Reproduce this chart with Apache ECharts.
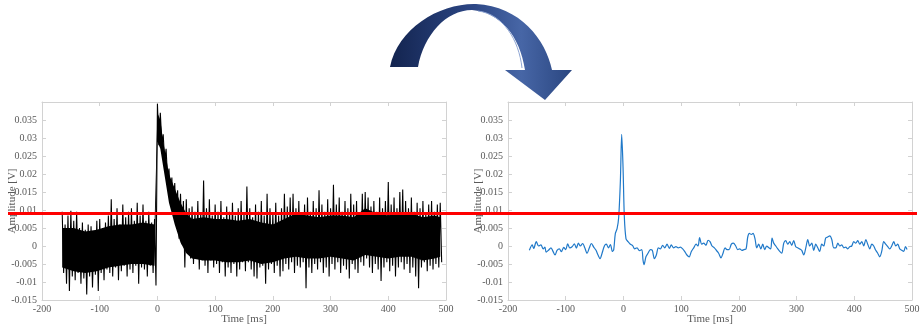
<!DOCTYPE html>
<html>
<head>
<meta charset="utf-8">
<script src="https://cdn.jsdelivr.net/npm/echarts@6/dist/echarts.min.js"></script>
<style>
  html, body { margin: 0; padding: 0; background: #fff; }
  #chart { width: 920px; height: 325px; }
</style>
</head>
<body>
<div id="chart"></div>
<script>
// raw recording (left): upper / lower swing of the noisy trace, one pair every 5 ms from -165 ms
const rawStart = -165
const rawStep = 5
const rawHigh = [
  0.0095, 0.006, 0.0085, 0.0098, 0.007, 0.0095, 0.005, 0.0065, 0.0045, 0.006, 0.0055,
  0.004, 0.007, 0.0075, 0.005, 0.0065, 0.0085, 0.013, 0.0075, 0.0105, 0.006, 0.0115,
  0.008, 0.0095, 0.0105, 0.007, 0.012, 0.0085, 0.0115, 0.007, 0.0095, 0.0065, 0.0075,
  0.0395, 0.037, 0.031, 0.027, 0.0215, 0.019, 0.0175, 0.0155, 0.0145, 0.0125, 0.013,
  0.0105, 0.011, 0.0095, 0.0125, 0.009, 0.0182, 0.0105, 0.013, 0.0085, 0.0115, 0.0095,
  0.0125, 0.008, 0.011, 0.0095, 0.012, 0.0085, 0.0105, 0.0125, 0.009, 0.0165, 0.0105,
  0.008, 0.0115, 0.0095, 0.0125, 0.0085, 0.0145, 0.0105, 0.009, 0.012, 0.0085, 0.0105,
  0.0145, 0.011, 0.0135, 0.0145, 0.0105, 0.0125, 0.009, 0.0115, 0.0135, 0.0095, 0.0125,
  0.0105, 0.0155, 0.0115, 0.0095, 0.013, 0.0105, 0.017, 0.0115, 0.0135, 0.0095, 0.0125,
  0.0105, 0.0145, 0.0115, 0.0125, 0.009, 0.0145, 0.015, 0.0135, 0.011, 0.0125, 0.0095,
  0.0135, 0.0105, 0.0125, 0.0178, 0.0115, 0.0135, 0.0105, 0.015, 0.0157, 0.0125, 0.0105,
  0.0135, 0.0095, 0.012, 0.0105, 0.0125, 0.009, 0.0115, 0.0125, 0.0095, 0.0115, 0.012
]
const rawLow = [
  -0.0075, -0.0105, -0.0125, -0.0085, -0.0095, -0.0075, -0.0105, -0.009, -0.0135, -0.0085, -0.0115,
  -0.008, -0.0125, -0.0075, -0.0095, -0.0065, -0.0075, -0.0085, -0.006, -0.0095, -0.007, -0.0055,
  -0.0085, -0.0065, -0.0075, -0.0055, -0.0105, -0.006, -0.0065, -0.0085, -0.0055, -0.0075, -0.011,
  0.028, 0.029, 0.0235, 0.019, 0.0135, 0.009, 0.006, 0.002, 0.0005, -0.006, -0.002,
  -0.0035, -0.005, -0.003, -0.0065, -0.004, -0.0055, -0.0075, -0.004, -0.006, -0.005, -0.0075,
  -0.0045, -0.0085, -0.006, -0.0075, -0.005, -0.0085, -0.0065, -0.0045, -0.007, -0.0045, -0.0065,
  -0.0085, -0.009, -0.006, -0.0055, -0.0105, -0.0065, -0.005, -0.0075, -0.0055, -0.0085, -0.007,
  -0.005, -0.0065, -0.0045, -0.0075, -0.0055, -0.006, -0.0045, -0.0117, -0.006, -0.0075, -0.005,
  -0.0065, -0.0045, -0.0075, -0.006, -0.0085, -0.005, -0.0065, -0.0045, -0.0075, -0.0055, -0.0065,
  -0.009, -0.005, -0.0065, -0.0075, -0.0045, -0.0055, -0.0035, -0.006, -0.0075, -0.005, -0.0065,
  -0.0097, -0.006, -0.0045, -0.007, -0.0055, -0.0085, -0.006, -0.0045, -0.0065, -0.005, -0.0075,
  -0.006, -0.0085, -0.0117, -0.006, -0.0045, -0.007, -0.0055, -0.0065, -0.005, -0.006, -0.0045
]

// dense (solid black) core of the raw trace
const coreTime = [
  -165, -145, -125, -105, -85, -65, -45, -25, -5,
  0, 5, 10, 20, 30, 40, 50,
  60, 80, 100, 120, 140, 160, 180, 200, 220, 240, 260, 280, 300, 320, 340,
  360, 380, 400, 420, 440, 460, 480, 490
]
const coreTop = [
  0.005, 0.005, 0.004, 0.0045, 0.0055, 0.006, 0.006, 0.0065, 0.006,
  0.037, 0.035, 0.029, 0.02, 0.016, 0.012, 0.009,
  0.0075, 0.008, 0.0075, 0.0075, 0.007, 0.0075, 0.0065, 0.006, 0.0075, 0.009, 0.0085, 0.008, 0.0085, 0.0085, 0.008,
  0.0105, 0.009, 0.0085, 0.0095, 0.009, 0.008, 0.0085, 0.008
]
const coreBottom = [
  -0.006, -0.007, -0.0075, -0.007, -0.006, -0.0055, -0.005, -0.005, -0.0055,
  0.029, 0.027, 0.022, 0.012, 0.006, 0.001, -0.002,
  -0.0035, -0.004, -0.004, -0.0045, -0.0045, -0.004, -0.005, -0.0045, -0.0035, -0.003, -0.0035, -0.0035, -0.003, -0.0035, -0.004,
  -0.0025, -0.003, -0.0035, -0.003, -0.003, -0.004, -0.0035, -0.003
]

// filtered trace (right)
const filtTime = [
  -163, -158, -155.5, -151, -147, -143, -139, -136, -134, -130, -125.5, -122, -118.5, -115, -111,
  -107.5, -103.5, -100, -96.6, -93, -89, -85, -81.6, -78, -74.6, -70.6, -67, -63, -59, -55.6,
  -51.5, -47.5, -44, -40.5, -37, -33, -29.6, -26, -22.6, -19, -16.8, -14, -11, -8.2, -5.3,
  -3, -0.7, 1.6, 4.5, 8, 12, 16, 19.5, 23.6, 27.6, 31.7, 34, 35.7, 39, 42.6,
  46.7, 50, 53.6, 57, 60.5, 64, 68, 71.5, 75.6, 79.6, 83, 87, 91, 95, 98.7,
  102.7, 106, 110, 114, 117.7, 121.8, 125.8, 129.3, 132, 135.6, 139, 143, 146.6, 150, 153.5,
  157.6, 161, 165, 169, 172.6, 176, 179.5, 183, 187, 190.5, 194.6, 198, 201.5, 205.5, 209,
  212.5, 215.4, 218.3, 221.7, 224.6, 228, 231, 234.4, 238, 241.4, 244.8, 248.3, 252, 255.2, 257.5,
  260.4, 264, 267.4, 270.8, 274.3, 277.8, 281.2, 284.7, 288.1, 291.6, 295, 298.6, 302, 305.5, 309,
  312.4, 316, 319.4, 322.8, 326.3, 329.8, 333.2, 336.7, 340, 343.6, 347, 350.5, 354, 357.6, 361,
  364.4, 368, 371.5, 374.8, 378.3, 381.8, 385.2, 388.7, 392, 395.6, 399, 402.5, 406, 409.5, 413,
  416.4, 420, 423.3, 426.8, 430.3, 433.7, 437.2, 440.6, 444, 447.5, 451, 454.4, 458, 461.3, 464.8,
  468.4, 471.8, 475.3, 478.8, 482.3, 485.7, 488.6, 491.5
]
const filtAmp = [
  -0.0012, 0.0003, -0.0007, 0.0012, 0.0, 0.0003, -0.0008, -0.0003, -0.0017, -0.0012, -0.0005, -0.0015, -0.0025, -0.0012, -0.0008,
  -0.0016, -0.0004, -0.001, 0.0006, -0.0005, -0.0002, 0.0006, -0.0006, 0.0008, 0.0, 0.0007, -0.0005, -0.002, -0.0005, 0.0007,
  -0.0003, -0.0012, -0.0025, -0.0035, -0.002, 0.0, 0.0005, -0.0005, 0.0004, -0.0015, -0.001, 0.0035, 0.0048, 0.008, 0.018,
  0.031, 0.022, 0.008, 0.002, 0.0012, 0.0005, 0.0001, -0.0008, -0.0005, -0.0013, -0.001, -0.004, -0.0052, -0.003, -0.002,
  -0.001, -0.0012, -0.0035, -0.0025, -0.0005, -0.0008, 0.0002, -0.0005, 0.0005, -0.0007, 0.0003, -0.0005, -0.0002, -0.0005, -0.0003,
  -0.0008, -0.0015, -0.0025, -0.003, -0.0015, -0.0005, 0.0005, 0.0, 0.0023, 0.0005, 0.0008, 0.0002, 0.0016, 0.0012, 0.0,
  -0.0005, -0.0012, -0.002, -0.0033, -0.002, -0.0005, -0.001, -0.001, 0.0005, 0.0008, 0.0, -0.001, -0.0008, -0.0012, -0.001,
  -0.0008, 0.0025, 0.0035, 0.0032, 0.0035, 0.002, -0.0005, 0.0005, -0.0008, 0.0005, -0.001, 0.0, -0.0005, -0.0008, 0.0022,
  0.0008, 0.0, -0.0008, -0.0015, -0.002, 0.0008, 0.0015, 0.0005, 0.0012, 0.0002, 0.0015, -0.0002, -0.0005, -0.0008, -0.0012,
  -0.0025, -0.0005, 0.0018, 0.0, 0.0008, -0.0012, 0.0005, -0.0005, -0.0015, 0.0005, 0.0, 0.0022, 0.0025, 0.0028, 0.0018,
  -0.0005, -0.0005, 0.0008, 0.0, 0.0003, -0.0005, -0.0003, -0.0008, -0.0002, 0.0, 0.0012, 0.0008, 0.0015, 0.0005, 0.0012,
  0.0, 0.0018, 0.0005, -0.0008, 0.0005, 0.0, -0.0012, -0.002, -0.003, -0.0015, 0.0012, 0.0005, -0.0002, -0.0008, 0.0,
  0.0012, 0.0, 0.0005, -0.0008, -0.0012, -0.0015, -0.0002, -0.001
]

const threshold = 0.009
const xTicks = { min: -200, max: 500, interval: 100 }
const yTicks = { min: -0.015, max: 0.04, interval: 0.005 }

const serif = '"Liberation Serif", "DejaVu Serif", serif'
const frame = '#d2d2d2'
const textGray = '#5a5a5a'

// black trace: swing down and up between the read extremes
const rawData = []
rawHigh.forEach((hi, i) => {
  const t = rawStart + i * rawStep
  rawData.push([t, hi])
  rawData.push([t + rawStep / 2, rawLow[i]])
})
const coreData = coreTime.map((t, i) => [t, coreTop[i], coreBottom[i]])
const filtData = filtTime.map((t, i) => [t, filtAmp[i]])

// one polygon for the whole dense band, placed through the axes
function renderCore (params, api) {
  if (params.dataIndex !== 0) return null
  const upper = coreTime.map((t, i) => api.coord([t, coreTop[i]]))
  const lower = coreTime.map((t, i) => api.coord([t, coreBottom[i]])).reverse()
  return {
    type: 'polygon',
    shape: { points: upper.concat(lower) },
    style: { fill: '#000' }
  }
}

function xAxes (grid) {
  const base = {
    gridIndex: grid, type: 'value', ...xTicks,
    axisLine: { onZero: false, lineStyle: { color: frame, width: 1 } },
    axisTick: { inside: true, length: 4, lineStyle: { color: frame } },
    splitLine: { show: false }
  }
  return [
    {
      ...base, position: 'bottom',
      axisLabel: { color: textGray, fontFamily: serif, fontSize: 10, margin: 4 },
      name: 'Time [ms]', nameLocation: 'middle', nameGap: 14, nameMoveOverlap: false,
      nameTextStyle: { color: textGray, fontFamily: serif, fontSize: 11 }
    },
    { ...base, position: 'top', axisLabel: { show: false } }
  ]
}

function yAxes (grid) {
  const base = {
    gridIndex: grid, type: 'value', ...yTicks,
    axisLine: { show: true, onZero: false, lineStyle: { color: frame, width: 1 } },
    axisTick: { show: true, inside: true, length: 4, lineStyle: { color: frame } },
    splitLine: { show: false }
  }
  return [
    {
      ...base, position: 'left',
      axisLabel: {
        color: textGray, fontFamily: serif, fontSize: 10, margin: 5, showMaxLabel: false,
        formatter: v => String(+v.toFixed(3))
      },
      name: 'Amplitude [V]', nameLocation: 'middle', nameGap: 24, nameMoveOverlap: false,
      nameTextStyle: { color: textGray, fontFamily: serif, fontSize: 11 }
    },
    { ...base, position: 'right', axisLabel: { show: false } }
  ]
}

// curved arrow between the panels
const CurvedArrow = echarts.graphic.extendShape({
  shape: {},
  buildPath (ctx) {
    ctx.moveTo(390, 67)
    ctx.bezierCurveTo(398, 28, 440, 3, 476, 4)
    ctx.bezierCurveTo(520, 6, 546, 40, 552, 70)
    ctx.lineTo(572, 70)
    ctx.lineTo(545, 100)
    ctx.lineTo(505, 70)
    ctx.lineTo(525, 70)
    ctx.bezierCurveTo(520, 36, 500, 12, 472, 10)
    ctx.bezierCurveTo(446, 10, 424, 35, 418, 67)
    ctx.closePath()
  }
})
echarts.graphic.registerShape('curvedArrow', CurvedArrow)

const chart = echarts.init(document.getElementById('chart'))
chart.setOption({
  animation: false,
  backgroundColor: '#fff',
  grid: [
    { left: 42, top: 102, width: 404, height: 198, containLabel: false, outerBoundsMode: 'none' },
    { left: 508, top: 102, width: 404, height: 198, containLabel: false, outerBoundsMode: 'none' }
  ],
  xAxis: [...xAxes(0), ...xAxes(1)],
  yAxis: [...yAxes(0), ...yAxes(1)],
  series: [
    {
      type: 'custom', xAxisIndex: 0, yAxisIndex: 0, data: coreData,
      encode: { x: 0, y: [1, 2] }, renderItem: renderCore, silent: true
    },
    {
      type: 'line', xAxisIndex: 0, yAxisIndex: 0, data: rawData,
      showSymbol: false, lineStyle: { color: '#000', width: 1.1, join: 'bevel' }
    },
    {
      type: 'line', xAxisIndex: 2, yAxisIndex: 2, data: filtData,
      showSymbol: false, smooth: 0.3, lineStyle: { color: '#2079c9', width: 1.2 }
    }
  ]
})

const lineY = chart.convertToPixel({ yAxisIndex: 0 }, threshold)
chart.setOption({
  graphic: [
    {
      type: 'curvedArrow', z: 50,
      style: {
        fill: new echarts.graphic.LinearGradient(0, 0, 1, 0, [
          { offset: 0, color: '#13244f' },
          { offset: 0.45, color: '#2c4684' },
          { offset: 0.72, color: '#4766a6' },
          { offset: 1, color: '#2a4680' }
        ])
      }
    },
    {
      type: 'bezierCurve', z: 51,
      shape: { x1: 478, y1: 11, x2: 522, y2: 68, cpx1: 503, cpy1: 14, cpx2: 519, cpy2: 40 },
      style: { stroke: '#8ea5d3', lineWidth: 1, fill: null }
    },
    {
      type: 'line', z: 100,
      shape: { x1: 8, y1: lineY, x2: 917, y2: lineY },
      style: { stroke: '#ff0000', lineWidth: 3 }
    }
  ]
})
</script>
</body>
</html>
